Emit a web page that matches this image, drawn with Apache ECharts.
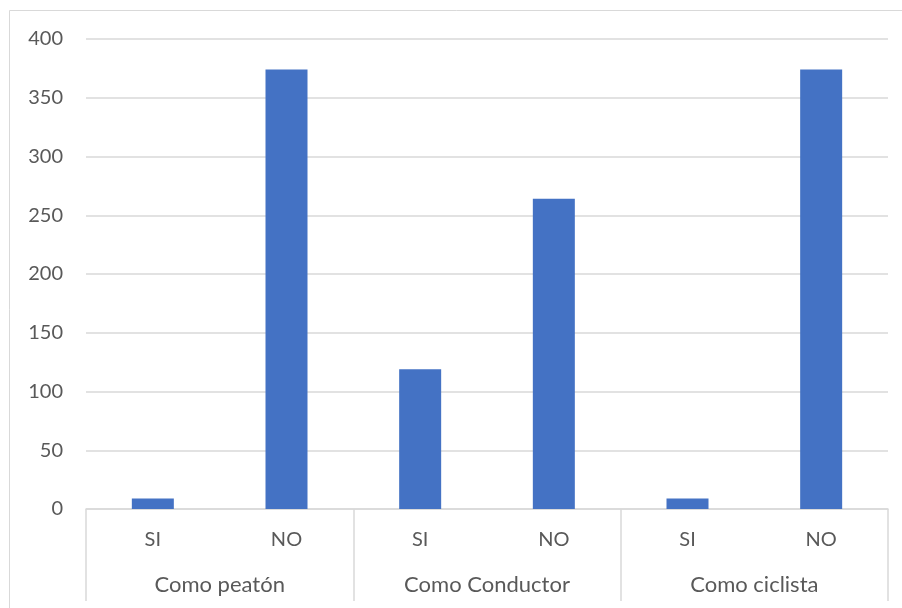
<!DOCTYPE html>
<html>
<head>
<meta charset="utf-8">
<script src="https://cdn.jsdelivr.net/npm/echarts@6/dist/echarts.min.js"></script>
<style>
  html, body { margin: 0; padding: 0; background: #ffffff; }
  #chart { width: 902px; height: 608px; }
</style>
</head>
<body>
<div id="chart"></div>
<script>
// Respuestas por tipo de usuario de la vía
const groups = ['Como peatón', 'Como Conductor', 'Como ciclista'];
const answers = ['SI', 'NO'];
const siValues = [9, 119, 9];
const noValues = [374, 264, 374];
const yTicks = { min: 0, max: 400, step: 50 };

// One flat category per bar: SI/NO repeated inside each group
const barCategories = [];
const barValues = [];
groups.forEach((g, i) => {
  barCategories.push(answers[0]);
  barValues.push(siValues[i]);
  barCategories.push(answers[1]);
  barValues.push(noValues[i]);
});

const FONT = 'Lato, "Open Sans", sans-serif';
const TEXT = '#595959';
const LINE = '#d9d9d9';

const chart = echarts.init(document.getElementById('chart'), null, { renderer: 'canvas' });
chart.setOption({
  animation: false,
  backgroundColor: '#ffffff',
  grid: { left: 86, right: 14, top: 39, bottom: 99, containLabel: false },
  graphic: [{
    type: 'rect',
    shape: { x: 9.5, y: 10.5, width: 920, height: 640 },
    style: { fill: 'none', stroke: LINE, lineWidth: 1 },
    silent: true, z: -1
  }],
  xAxis: [
    {
      type: 'category',
      data: barCategories,
      position: 'bottom',
      axisLine: { show: true, lineStyle: { color: LINE, width: 1.5 } },
      axisTick: { show: false },
      axisLabel: { color: TEXT, fontFamily: FONT, fontSize: 20, margin: 21, interval: 0 },
      splitLine: { show: false }
    },
    {
      type: 'category',
      data: groups,
      position: 'bottom',
      axisLine: { show: false },
      axisTick: { show: true, interval: 0, length: 92, lineStyle: { color: LINE, width: 1.5 } },
      axisLabel: { color: TEXT, fontFamily: FONT, fontSize: 22, margin: 65, interval: 0 },
      splitLine: { show: false }
    }
  ],
  yAxis: {
    type: 'value',
    min: yTicks.min,
    max: yTicks.max,
    interval: yTicks.step,
    axisLine: { show: false },
    axisTick: { show: false },
    axisLabel: { color: TEXT, fontFamily: FONT, fontSize: 20, margin: 23 },
    splitLine: { show: true, lineStyle: { color: LINE, width: 1.5 } }
  },
  series: [{
    type: 'bar',
    xAxisIndex: 0,
    data: barValues,
    barWidth: 42,
    itemStyle: { color: '#4472C4' }
  }]
});
</script>
</body>
</html>
